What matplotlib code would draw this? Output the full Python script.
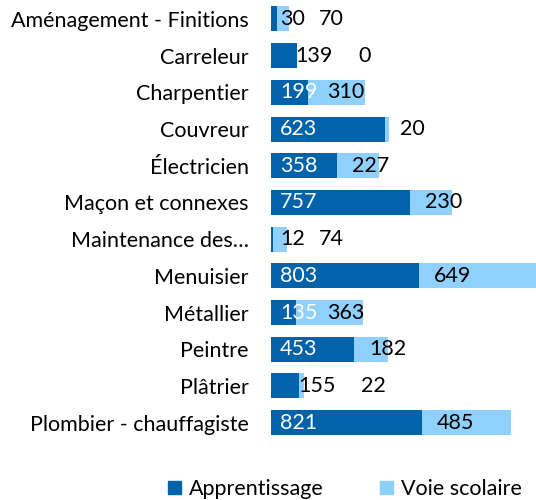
import numpy as np
import matplotlib.pyplot as plt
from matplotlib.patches import Patch

plt.rcParams['font.family'] = ['Lato', 'DejaVu Sans']

# data
metiers = ['Aménagement - Finitions', 'Carreleur', 'Charpentier', 'Couvreur',
           'Électricien', 'Maçon et connexes', 'Maintenance des…', 'Menuisier',
           'Métallier', 'Peintre', 'Plâtrier', 'Plombier - chauffagiste']
apprentissage = [30, 139, 199, 623, 358, 757, 12, 803, 135, 453, 155, 821]
voie_scolaire = [70, 0, 310, 20, 227, 230, 74, 649, 363, 182, 22, 485]

c_app = '#0063A9'
c_voie = '#8FD0FC'
fs = 15.5

fig = plt.figure(figsize=(5.36, 5.00), dpi=100)
ax_w = 265
xmax = 1442
ax = fig.add_axes([271 / 536, 59 / 500, ax_w / 536, 440.4 / 500])

y = np.arange(len(metiers))
ax.barh(y, apprentissage, height=0.68, color=c_app, clip_on=False)
ax.barh(y, voie_scolaire, left=apprentissage, height=0.68, color=c_voie, clip_on=False)

ax.set_xlim(0, xmax)
ax.set_ylim(len(metiers) - 0.5, -0.5)
ax.set_yticks(y)
ax.set_yticklabels(metiers, fontsize=fs)
ax.tick_params(axis='y', length=0, pad=16)
ax.set_xticks([])
for s in ax.spines.values():
    s.set_visible(False)

pt = 72 / 100  # pixels -> points
px_per_unit = ax_w / xmax
for i, (a, v) in enumerate(zip(apprentissage, voie_scolaire)):
    if a < 50:
        ax.annotate(str(a), (0, i), xytext=(9 * pt, 0), textcoords='offset points',
                    va='center', ha='left', fontsize=fs, color='black')
        ax.annotate(str(v), (0, i), xytext=(48 * pt, 0), textcoords='offset points',
                    va='center', ha='left', fontsize=fs, color='black')
    elif v < 50 and a < 190:
        ax.annotate(str(a), (a, i), xytext=(-1 * pt, 0), textcoords='offset points',
                    va='center', ha='left', fontsize=fs, color='black')
        ax.annotate(str(v), (a, i), xytext=(62 * pt, 0), textcoords='offset points',
                    va='center', ha='left', fontsize=fs, color='black')
    else:
        ax.annotate(str(a), (0, i), xytext=(9 * pt, 0), textcoords='offset points',
                    va='center', ha='left', fontsize=fs, color='white')
        off = max(a * px_per_unit + 15, 56)
        ax.annotate(str(v), (0, i), xytext=(off * pt, 0), textcoords='offset points',
                    va='center', ha='left', fontsize=fs, color='black')

handles = [Patch(color=c_app, label='Apprentissage'),
           Patch(color=c_voie, label='Voie scolaire')]
fig.legend(handles=handles, loc='center', bbox_to_anchor=(345 / 536, 11 / 500),
           ncol=2, frameon=False, fontsize=fs, handlelength=0.6, handleheight=0.6,
           handletextpad=0.4, columnspacing=2.6)

fig.savefig('out.png', dpi=100)
